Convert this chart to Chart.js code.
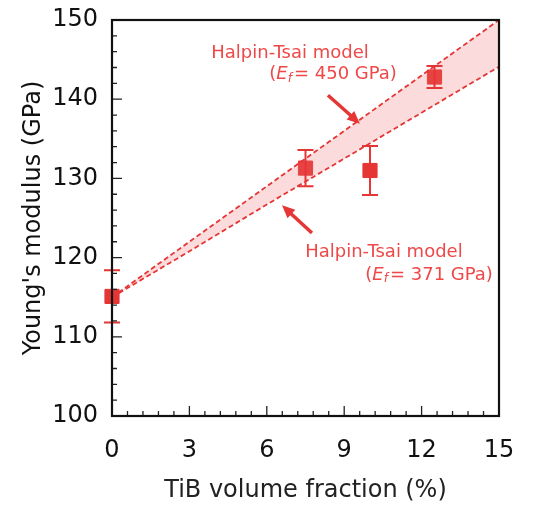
<!DOCTYPE html>
<html>
<head>
<meta charset="utf-8">
<script src="https://cdn.jsdelivr.net/npm/chart.js@4.4.0/dist/chart.umd.min.js"></script>
<style>
  html, body { margin: 0; padding: 0; background: #fff; }
  #wrap { width: 541px; height: 511px; }
</style>
</head>
<body>
<div id="wrap"><canvas id="myChart" width="541" height="511"></canvas></div>
<script>
// measured points (TiB vol% vs modulus) with error bars
const fractions = [0, 7.5, 10, 12.5];
const modulus = [115.1, 131.3, 131.0, 142.8];
const errors = [3.3, 2.3, 3.1, 1.4];

// Halpin-Tsai model curves
const modelX = [0, 3, 6, 9, 12, 15];
const model450 = [115, 122, 129, 136, 143, 150];
const model371 = [115, 120.8, 126.7, 132.5, 138.3, 144.1];

const xTicks = [0, 3, 6, 9, 12, 15];
const yTicks = [100, 110, 120, 130, 140, 150];

const red = '#e63535';
const textRed = '#ee4848';
const tickFont = "'DejaVu Sans', Verdana, sans-serif";

function toPoints(xs, ys){
    let stock = [];
    let i = -1;
    while(++i < xs.length){
        stock.push({x: xs[i], y: ys[i]});
    }
    return stock;
}

// error bars drawn through the scales
const errorBars = {
    id: 'errorBars',
    afterDatasetsDraw(chart) {
        const ctx = chart.ctx;
        const xs = chart.scales.x, ys = chart.scales.y;
        ctx.save();
        ctx.strokeStyle = red;
        ctx.lineWidth = 2;
        fractions.forEach((f, i) => {
            const px = xs.getPixelForValue(f);
            const top = ys.getPixelForValue(modulus[i] + errors[i]);
            const bot = ys.getPixelForValue(modulus[i] - errors[i]);
            ctx.beginPath();
            ctx.moveTo(px, top); ctx.lineTo(px, bot);
            ctx.moveTo(px - 8, top); ctx.lineTo(px + 8, top);
            ctx.moveTo(px - 8, bot); ctx.lineTo(px + 8, bot);
            ctx.stroke();
        });
        ctx.restore();
    }
};

// frame and inward ticks (major + minor)
const frame = {
    id: 'frame',
    afterDraw(chart) {
        const ctx = chart.ctx;
        const a = chart.chartArea;
        const xs = chart.scales.x, ys = chart.scales.y;
        ctx.save();
        ctx.strokeStyle = '#222';
        ctx.lineWidth = 1.3;
        ctx.beginPath();
        for (let v = 0; v <= 15.001; v += 0.6) {
            const px = xs.getPixelForValue(v);
            const major = Math.abs(v / 3 - Math.round(v / 3)) < 0.01;
            ctx.moveTo(px, a.bottom);
            ctx.lineTo(px, a.bottom - (major ? 10 : 5));
        }
        for (let v = 100; v <= 150; v += 2) {
            const py = ys.getPixelForValue(v);
            const major = v % 10 === 0;
            ctx.moveTo(a.left, py);
            ctx.lineTo(a.left + (major ? 10 : 5), py);
        }
        ctx.stroke();
        ctx.lineWidth = 2.2;
        ctx.strokeStyle = '#111';
        ctx.strokeRect(a.left, a.top, a.right - a.left, a.bottom - a.top);
        ctx.restore();
    }
};

function arrow(ctx, x1, y1, x2, y2) {
    const ang = Math.atan2(y2 - y1, x2 - x1);
    const len = 14;
    ctx.beginPath();
    ctx.moveTo(x1, y1);
    ctx.lineTo(x2 - Math.cos(ang) * len * 0.8, y2 - Math.sin(ang) * len * 0.8);
    ctx.stroke();
    ctx.beginPath();
    ctx.moveTo(x2, y2);
    ctx.lineTo(x2 - len * Math.cos(ang - 0.42), y2 - len * Math.sin(ang - 0.42));
    ctx.lineTo(x2 - len * Math.cos(ang + 0.42), y2 - len * Math.sin(ang + 0.42));
    ctx.closePath();
    ctx.fill();
}

function efLabel(ctx, cx, cy, value) {
    const base = "18px 'DejaVu Sans', Verdana, sans-serif";
    const ital = "italic 18px 'DejaVu Sans', Verdana, sans-serif";
    const sub = "italic 12px 'DejaVu Sans', Verdana, sans-serif";
    const rest = '= ' + value + ' GPa)';
    ctx.font = base; const w1 = ctx.measureText('(').width; const w4 = ctx.measureText(rest).width;
    ctx.font = ital; const w2 = ctx.measureText('E').width;
    ctx.font = sub; const w3 = ctx.measureText('f').width + 2;
    let x = cx - (w1 + w2 + w3 + w4) / 2;
    ctx.textAlign = 'left';
    ctx.font = base; ctx.fillText('(', x, cy); x += w1;
    ctx.font = ital; ctx.fillText('E', x, cy); x += w2;
    ctx.font = sub; ctx.fillText('f', x, cy + 4); x += w3;
    ctx.font = base; ctx.fillText(rest, x, cy);
}

const notes = {
    id: 'notes',
    afterDraw(chart) {
        const ctx = chart.ctx;
        const xs = chart.scales.x, ys = chart.scales.y;
        const X = v => xs.getPixelForValue(v), Y = v => ys.getPixelForValue(v);
        ctx.save();
        ctx.fillStyle = textRed;
        ctx.textBaseline = 'middle';
        ctx.textAlign = 'center';
        ctx.font = "18px 'DejaVu Sans', Verdana, sans-serif";
        ctx.fillText('Halpin-Tsai model', X(6.9), Y(145.8));
        efLabel(ctx, X(8.57), Y(143.1), '450');
        ctx.textAlign = 'center';
        ctx.font = "18px 'DejaVu Sans', Verdana, sans-serif";
        ctx.fillText('Halpin-Tsai model', X(10.54), Y(120.7));
        efLabel(ctx, X(12.29), Y(117.8), '371');
        ctx.fillStyle = red;
        ctx.strokeStyle = red;
        ctx.lineWidth = 3.5;
        arrow(ctx, X(8.37), Y(140.5), X(9.61), Y(136.9));
        arrow(ctx, X(7.75), Y(123.1), X(6.59), Y(126.6));
        ctx.restore();
    }
};

const ctx = document.getElementById('myChart');
new Chart(ctx, {
    type: 'scatter',
    data: {
        datasets: [
            {
                type: 'line',
                label: 'Ef = 450 GPa',
                data: toPoints(modelX, model450),
                borderColor: red,
                borderWidth: 1.8,
                borderDash: [5, 3],
                pointRadius: 0,
                fill: false,
                tension: 0
            },
            {
                type: 'line',
                label: 'Ef = 371 GPa',
                data: toPoints(modelX, model371),
                borderColor: red,
                borderWidth: 1.8,
                borderDash: [5, 3],
                pointRadius: 0,
                fill: '-1',
                backgroundColor: 'rgba(240, 110, 110, 0.25)',
                tension: 0
            },
            {
                label: 'Measured',
                data: toPoints(fractions, modulus),
                pointStyle: 'rect',
                pointRadius: 10,
                pointHoverRadius: 10,
                backgroundColor: red,
                borderColor: red,
                clip: false
            }
        ]
    },
    options: {
        responsive: false,
        animation: false,
        events: [],
        layout: { padding: { left: 15, right: 42, top: 20, bottom: 2 } },
        plugins: { legend: { display: false }, tooltip: { enabled: false } },
        scales: {
            x: {
                type: 'linear',
                min: 0, max: 15,
                afterBuildTicks: s => { s.ticks = xTicks.map(v => ({ value: v })); },
                afterFit: s => { s.height = 93; s.paddingLeft = 0; s.paddingRight = 0; },
                grid: { drawOnChartArea: false, drawTicks: false },
                border: { display: false },
                ticks: { padding: 20, color: '#111', font: { family: tickFont, size: 24 } },
                title: { display: true, text: 'TiB volume fraction (%)', color: '#222',
                         font: { family: tickFont, size: 24 }, padding: { top: 4 } }
            },
            y: {
                min: 100, max: 150,
                afterBuildTicks: s => { s.ticks = yTicks.map(v => ({ value: v })); },
                afterFit: s => { s.width = 97; s.paddingTop = 0; s.paddingBottom = 0; },
                grid: { drawOnChartArea: false, drawTicks: false },
                border: { display: false },
                ticks: { padding: 14, color: '#111', font: { family: tickFont, size: 24 } },
                title: { display: true, text: "Young's modulus (GPa)", color: '#111',
                         font: { family: tickFont, size: 24 }, padding: { bottom: 4 } }
            }
        }
    },
    plugins: [errorBars, frame, notes]
});
</script>
</body>
</html>
